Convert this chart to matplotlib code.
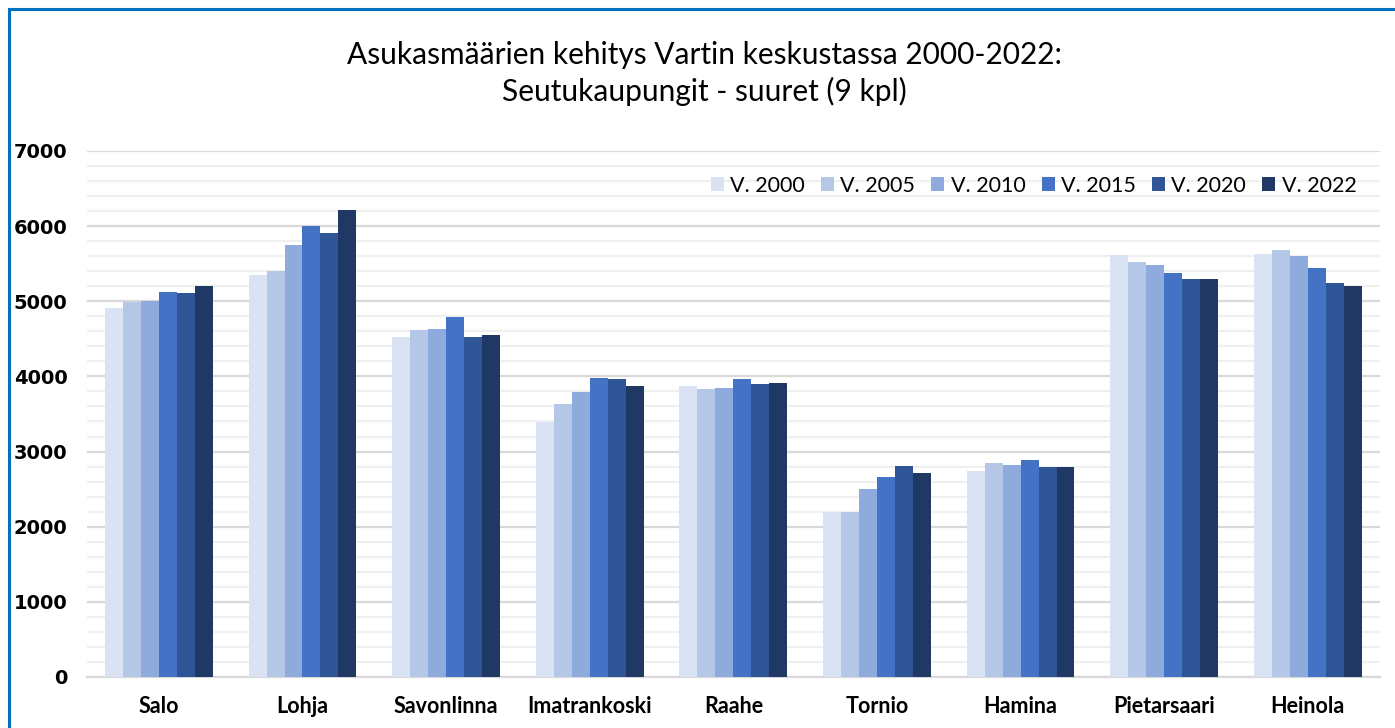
import matplotlib.pyplot as plt
import numpy as np
from matplotlib.lines import Line2D

# data
cities = ["Salo", "Lohja", "Savonlinna", "Imatrankoski", "Raahe",
          "Tornio", "Hamina", "Pietarsaari", "Heinola"]
years = ["V. 2000", "V. 2005", "V. 2010", "V. 2015", "V. 2020", "V. 2022"]
v2000 = [4910, 5350, 4525, 3395, 3875, 2190, 2740, 5615, 5630]
v2005 = [4990, 5405, 4620, 3635, 3835, 2200, 2850, 5525, 5685]
v2010 = [5010, 5750, 4630, 3795, 3845, 2500, 2820, 5485, 5605]
v2015 = [5125, 6000, 4790, 3980, 3965, 2660, 2890, 5375, 5445]
v2020 = [5110, 5910, 4525, 3965, 3900, 2810, 2795, 5295, 5245]
v2022 = [5205, 6215, 4550, 3875, 3915, 2715, 2795, 5295, 5205]
series = [v2000, v2005, v2010, v2015, v2020, v2022]
colors = ["#dae3f3", "#b4c7e7", "#8faadc", "#4472c4", "#2f5597", "#203864"]

title = "Asukasmäärien kehitys Vartin keskustassa 2000-2022:\nSeutukaupungit - suuret (9 kpl)"

fig = plt.figure(figsize=(13.95, 7.28), dpi=100)
ax = fig.add_axes([0.0624, 0.0701, 0.9266, 0.7225])

x = np.arange(len(cities))
width = 0.75 / len(series)
for i, (vals, col, lab) in enumerate(zip(series, colors, years)):
    ax.bar(x - 0.375 + width * (i + 0.5), vals, width, color=col,
           label=lab, zorder=3)

ax.set_xlim(-0.5, len(cities) - 0.5)
ax.set_ylim(0, 7000)
ax.set_yticks(np.arange(0, 7001, 1000))
ax.set_yticks(np.arange(0, 7001, 200), minor=True)
ax.grid(axis="y", which="major", color="#d9d9d9", lw=1.6, zorder=0)
ax.grid(axis="y", which="minor", color="#f0f0f0", lw=1.6, zorder=0)
ax.tick_params(axis="y", which="both", length=0, pad=14)
ax.tick_params(axis="x", length=0, pad=14)
for s in ["left", "right", "top"]:
    ax.spines[s].set_visible(False)
ax.spines["bottom"].set_color("#d9d9d9")
ax.spines["bottom"].set_linewidth(1.6)

ax.set_xticks(x)
ax.set_xticklabels(cities, fontfamily="Lato", fontweight="bold",
                   fontsize=15.5, color="#000000")
for t in ax.get_yticklabels():
    t.set_fontfamily("DejaVu Sans")
    t.set_fontweight("bold")
    t.set_fontsize(14)

fig.text(0.505, 0.899, title, ha="center", va="center",
         fontfamily="Lato", fontsize=21.5, linespacing=1.32, color="#000000")

leg = ax.legend(ncol=6, loc="upper right", bbox_to_anchor=(0.997, 0.99),
                frameon=False, prop={"family": "Lato", "size": 15.5},
                handlelength=0.6, handleheight=0.6, handletextpad=0.3,
                columnspacing=0.75)

# chart frame (blue selection border, left and top)
fig.add_artist(Line2D([0.0065, 0.0065], [0, 0.988], color="#0070c0",
                      lw=2.2, transform=fig.transFigure))
fig.add_artist(Line2D([0.0065, 1], [0.988, 0.988], color="#0070c0",
                      lw=2.2, transform=fig.transFigure))

fig.savefig("out.png", dpi=100)
